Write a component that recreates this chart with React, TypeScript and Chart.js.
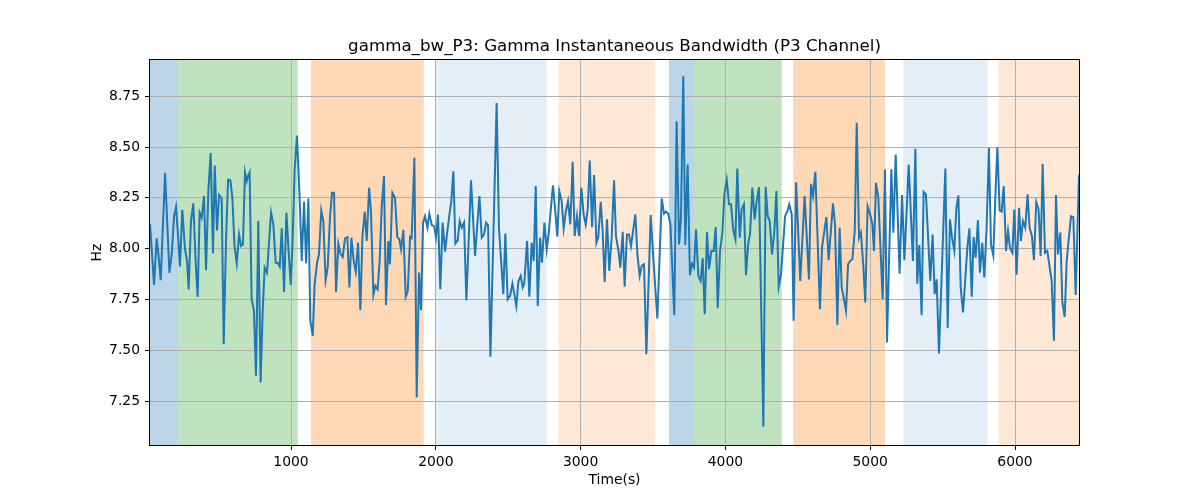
import React, { useEffect, useRef } from "react";
import { Chart, registerables } from "chart.js";

Chart.register(...registerables);
Chart.defaults.font.family = "'DejaVu Sans', sans-serif";

// sample times (s)
const times = [
  26, 54, 72, 84, 100, 130, 160, 176, 192, 206, 222, 233, 249, 268, 282, 293, 309, 325, 341, 355,
  369, 383, 399, 413, 429, 445, 461, 473, 489, 503, 521, 535, 551, 565, 581, 595, 609, 625, 641, 655,
  668, 682, 694, 703, 714, 728, 744, 758, 774, 790, 804, 818, 834,
  862, 878, 894, 908, 922, 936, 952, 968, 982, 998, 1011, 1025, 1041, 1058, 1074, 1090, 1104, 1120, 1133, 1150,
  1163, 1180, 1193, 1209, 1223, 1239, 1253, 1269, 1283, 1297, 1311, 1327, 1343, 1357, 1373, 1389, 1403, 1417, 1433, 1447,
  1463, 1479, 1493, 1509, 1523, 1539, 1552, 1569, 1582, 1598, 1612, 1626, 1642, 1656, 1672, 1683,
  1700, 1718, 1734, 1748, 1760, 1776, 1792, 1806, 1822, 1833, 1852, 1868, 1884, 1898, 1912, 1925, 1942, 1955, 1972, 1988,
  2001, 2015, 2031, 2047, 2064, 2077, 2094, 2107, 2121, 2135, 2151, 2165, 2179, 2195, 2211, 2243, 2271, 2301, 2317, 2333,
  2347, 2361, 2377, 2420, 2436, 2466, 2480, 2496, 2513,
  2529, 2542, 2556, 2570, 2586, 2600, 2611, 2630, 2646, 2662, 2676, 2690, 2704, 2720, 2733, 2750, 2766, 2780, 2793, 2809,
  2826, 2839, 2853, 2869, 2883, 2899, 2913, 2929, 2945, 2959, 2975, 2989, 3005, 3021, 3035, 3049, 3063, 3079, 3093, 3109,
  3122, 3139, 3152, 3166, 3182, 3198, 3215, 3231, 3244, 3261, 3274, 3291, 3304, 3320, 3334,
  3348, 3378, 3392, 3408, 3422, 3438, 3454, 3484, 3502, 3530, 3560, 3576, 3590, 3606, 3620, 3647, 3663, 3680, 3693, 3709,
  3723, 3739, 3755, 3769, 3783, 3797, 3813, 3829, 3843, 3857, 3873, 3887, 3903, 3919, 3933, 3947, 3963, 3979, 3993, 4009,
  4025, 4039, 4055, 4069, 4082, 4099, 4112, 4128, 4142, 4158, 4170,
  4186, 4202, 4216, 4232, 4262, 4278, 4292, 4306, 4322, 4338, 4352, 4368, 4384, 4412, 4428, 4441, 4458, 4471, 4488, 4517,
  4547, 4577, 4591, 4605, 4621, 4653, 4667, 4697, 4713, 4743, 4757, 4773, 4789, 4803, 4817, 4833, 4847, 4860, 4877, 4893,
  4907, 4923, 4936, 4953, 4966, 4982, 4999,
  5015, 5026, 5040, 5056, 5086, 5102, 5116, 5146, 5160, 5176, 5203, 5220, 5236, 5266, 5295, 5312, 5325, 5339, 5355, 5369,
  5385, 5415, 5431, 5445, 5459, 5475, 5519, 5535, 5551, 5565, 5581, 5595, 5609, 5625, 5641, 5671, 5685, 5701, 5714, 5728,
  5744, 5758, 5774, 5788, 5804, 5820,
  5834, 5850, 5864, 5878, 5894, 5908, 5922, 5938, 5952, 5965, 5982, 5995, 6011, 6028, 6041, 6055, 6071, 6087, 6101, 6117,
  6131, 6147, 6163, 6177, 6191, 6207, 6223, 6253, 6269, 6283, 6297, 6313, 6327, 6343, 6357, 6373, 6387, 6403, 6419, 6442,
];

// gamma bandwidth (Hz)
const bandwidth = [
  8.123, 7.822, 8.051, 7.975, 7.845, 8.373, 7.881, 7.972, 8.160, 8.206, 8.038, 7.913, 8.191, 7.997, 7.939, 7.799, 8.136, 8.223, 7.939, 7.764,
  8.177, 8.152, 8.259, 7.894, 8.283, 8.470, 7.977, 8.409, 8.090, 8.264, 8.247, 7.530, 8.038, 8.339, 8.336, 8.250, 8.021, 7.928, 8.070, 8.013,
  8.021, 8.376, 8.332, 8.357, 8.376, 7.750, 7.694, 7.375, 8.136, 7.342, 7.694, 7.907, 7.882,
  8.177, 8.119, 7.931, 7.931, 7.912, 8.100, 7.786, 8.177, 8.005, 7.822, 8.038, 8.390, 8.556, 8.275, 7.939, 8.231, 7.928, 8.247, 7.645, 7.571,
  7.825, 7.931, 7.972, 8.188, 8.136, 7.846, 7.907, 8.152, 8.275, 8.275, 7.787, 8.025, 7.972, 7.959, 8.051, 8.057, 7.809, 8.054, 7.939, 7.887,
  8.029, 7.697, 8.057, 8.182, 8.038, 8.300, 8.185, 7.772, 7.817, 7.800, 7.939, 8.201, 8.357, 7.723, 8.038, 7.923,
  8.275, 8.250, 8.057, 8.046, 7.997, 8.092, 7.763, 7.789, 8.057, 8.051, 8.447, 7.268, 7.882, 7.697, 8.128, 8.160, 8.103, 8.172, 8.116, 8.111,
  8.057, 8.167, 7.800, 8.128, 7.985, 8.070, 8.167, 8.234, 8.381, 8.025, 8.041, 8.136, 8.103, 8.128, 7.746, 8.336, 7.964, 8.259, 8.054, 8.070,
  8.128, 8.115, 7.468, 8.717, 8.103, 7.776, 8.074, 7.751, 7.768,
  7.828, 7.776, 7.718, 7.838, 7.866, 7.809, 7.828, 8.038, 7.764, 8.029, 7.939, 8.308, 7.718, 8.054, 7.931, 8.128, 7.997, 8.079, 8.185, 8.311,
  8.177, 8.059, 8.283, 8.234, 8.100, 8.188, 8.234, 8.119, 8.427, 8.062, 8.160, 8.062, 8.300, 8.167, 8.119, 8.193, 8.434, 8.106, 8.362, 8.029,
  8.057, 8.231, 8.087, 7.836, 8.144, 7.890, 8.062, 8.336, 8.062, 7.992, 7.907, 8.083, 7.813, 8.070, 8.070,
  8.013, 8.169, 7.972, 7.866, 7.915, 7.923, 7.481, 8.165, 7.956, 7.656, 8.247, 8.172, 8.182, 8.172, 8.119, 7.674, 8.627, 8.021, 8.152, 8.848,
  8.018, 8.414, 7.869, 7.926, 7.907, 8.095, 7.866, 7.841, 7.953, 7.678, 8.082, 7.899, 7.989, 7.989, 8.106, 7.707, 7.989, 8.079, 8.267, 8.337,
  8.218, 8.218, 8.087, 8.046, 8.394, 8.054, 8.193, 8.218, 7.869, 8.029, 8.070,
  8.300, 8.144, 8.234, 8.303, 7.124, 8.304, 8.160, 8.136, 7.972, 8.083, 8.283, 7.812, 7.874, 8.160, 8.185, 8.218, 8.169, 7.645, 8.327, 7.841,
  8.259, 7.849, 8.319, 8.259, 8.378, 7.702, 8.005, 8.155, 7.943, 8.223, 8.119, 7.625, 8.103, 7.809, 7.759, 7.694, 7.923, 7.939, 7.948, 8.087,
  8.619, 8.054, 8.079, 7.907, 7.735, 8.209, 8.169,
  8.119, 7.989, 8.324, 8.250, 7.751, 8.390, 7.538, 8.390, 8.079, 8.463, 7.877, 8.264, 7.943, 8.414, 7.939, 8.491, 7.828, 8.018, 7.673, 8.280,
  8.267, 7.841, 8.070, 7.776, 7.849, 7.484, 8.394, 7.609, 8.144, 8.054, 7.989, 8.201, 8.262, 7.809, 7.686, 8.005, 8.100, 7.763, 8.057, 7.956,
  8.139, 7.882, 8.029, 7.858, 8.103, 8.495,
  8.021, 7.967, 8.250, 8.499, 8.188, 8.182, 8.308, 7.989, 8.087, 8.005, 7.980, 8.193, 7.871, 8.201, 8.038, 8.136, 8.103, 8.267, 8.103, 8.062,
  7.943, 8.229, 8.193, 7.964, 8.417, 7.980, 7.989, 7.841, 7.547, 8.264, 7.972, 8.079, 7.735, 7.664, 7.939, 8.062, 8.160, 8.155, 7.772, 8.365,
];

// shaded segments (start / end in seconds)
const spanStarts = [26, 222, 1138, 1994, 2846, 3610, 3783, 4469, 5229, 5885];
const spanEnds = [222, 1046, 1916, 2766, 3514, 3783, 4389, 5102, 5811, 6442];
const spanKinds = ["blue", "green", "orange", "paleBlue", "paleOrange", "blue", "green", "orange", "paleBlue", "paleOrange"];

const xTicks = [1000, 2000, 3000, 4000, 5000, 6000];
const yTicks = [7.25, 7.5, 7.75, 8.0, 8.25, 8.5, 8.75];

const SPAN_COLORS: Record<string, string> = {
  blue: "rgba(31, 119, 180, 0.3)",
  green: "rgba(44, 160, 44, 0.3)",
  orange: "rgba(255, 127, 14, 0.3)",
  paleBlue: "rgba(31, 119, 180, 0.12)",
  paleOrange: "rgba(255, 127, 14, 0.17)",
};

const spanPlugin = {
  id: "bandSpans",
  beforeDraw(chart: any) {
    const { ctx, chartArea, scales } = chart;
    ctx.save();
    spanStarts.forEach((start, i) => {
      const left = scales.x.getPixelForValue(start);
      const right = scales.x.getPixelForValue(spanEnds[i]);
      ctx.fillStyle = SPAN_COLORS[spanKinds[i]];
      ctx.fillRect(left, chartArea.top, right - left, chartArea.bottom - chartArea.top);
    });
    ctx.restore();
  },
};

// matplotlib style box around the axes
const framePlugin = {
  id: "axesFrame",
  afterDatasetsDraw(chart: any) {
    const { ctx, chartArea } = chart;
    ctx.save();
    ctx.strokeStyle = "#000";
    ctx.lineWidth = 1;
    ctx.strokeRect(
      Math.round(chartArea.left) - 0.5,
      Math.round(chartArea.top) - 0.5,
      Math.round(chartArea.right - chartArea.left) + 1,
      Math.round(chartArea.bottom - chartArea.top) + 1
    );
    ctx.restore();
  },
};

export default function App() {
  const canvasRef = useRef<HTMLCanvasElement>(null);

  useEffect(() => {
    document.body.style.margin = "0";
    const points = times.map((t, i) => ({ x: t, y: bandwidth[i] }));

    const chart = new Chart(canvasRef.current!, {
      type: "line",
      data: {
        datasets: [
          {
            data: points,
            borderColor: "#1f77b4",
            borderWidth: 2,
            pointRadius: 0,
            tension: 0,
            fill: false,
          },
        ],
      },
      options: {
        responsive: false,
        animation: false,
        events: [],
        layout: { padding: { left: 0, right: 121, top: 0, bottom: 0 } },
        plugins: {
          legend: { display: false },
          tooltip: { enabled: false },
          title: {
            display: true,
            fullSize: false,
            text: "gamma_bw_P3: Gamma Instantaneous Bandwidth (P3 Channel)",
            color: "#000",
            font: { size: 16.7, weight: "normal" },
            padding: { top: 37, bottom: 3 },
          },
        },
        scales: {
          x: {
            type: "linear",
            min: 26,
            max: 6442,
            bounds: "data",
            afterBuildTicks: (s: any) => {
              s.ticks = xTicks.map((value) => ({ value }));
            },
            afterFit: (s: any) => {
              s.height = 55;
            },
            ticks: {
              callback: (v: any) => String(v),
              color: "#000",
              font: { size: 13.9 },
              padding: 4,
              maxRotation: 0,
            },
            grid: { color: "#b0b0b0", lineWidth: 1, tickColor: "#000", tickLength: 5 },
            border: { display: false },
            title: {
              display: true,
              text: "Time(s)",
              color: "#000",
              font: { size: 13.9 },
              padding: { top: 0, bottom: 11 },
            },
          },
          y: {
            min: 7.034,
            max: 8.928,
            bounds: "data",
            afterBuildTicks: (s: any) => {
              s.ticks = yTicks.map((value) => ({ value }));
            },
            afterFit: (s: any) => {
              s.width = 150;
            },
            ticks: {
              callback: (v: any) => Number(v).toFixed(2),
              color: "#000",
              font: { size: 13.9 },
              padding: 5,
            },
            grid: { color: "#b0b0b0", lineWidth: 1, tickColor: "#000", tickLength: 5 },
            border: { display: false },
            title: {
              display: true,
              text: "Hz",
              color: "#000",
              font: { size: 13.9 },
              padding: { top: 89, bottom: 0 },
            },
          },
        },
      },
      plugins: [spanPlugin, framePlugin],
    });

    return () => chart.destroy();
  }, []);

  return (
    <div style={{ width: 1200, height: 500 }}>
      <canvas ref={canvasRef} width={1200} height={500} style={{ display: "block" }} />
    </div>
  );
}
